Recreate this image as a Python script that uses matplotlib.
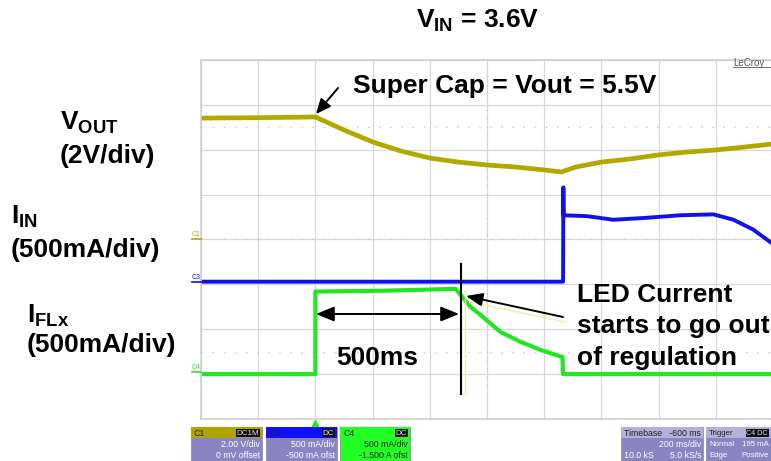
import matplotlib.pyplot as plt
import numpy as np
from matplotlib.patches import Rectangle

plt.rcParams['font.family'] = 'Liberation Sans'
plt.rcParams['mathtext.fontset'] = 'custom'
plt.rcParams['mathtext.rm'] = 'Liberation Sans:bold'
plt.rcParams['mathtext.it'] = 'Liberation Sans:bold'
plt.rcParams['mathtext.bf'] = 'Liberation Sans:bold'

# scope settings (200 ms/div, trigger at t = 0)
t_min, t_max = -400, 1600
vout_scale, vout_offset = 2.0, 0.0      # V/div, V
iin_scale, iin_offset = 0.5, -0.5       # A/div, A
iflx_scale, iflx_offset = 0.5, -1.5     # A/div, A

# C1 : V_OUT (V)
t_vout = [-400, -200, 0, 100, 200, 300, 400, 500, 600, 700, 800, 860, 910,
          1000, 1100, 1200, 1300, 1400, 1500, 1600]
vout = [5.41, 5.43, 5.46, 4.88, 4.35, 3.94, 3.63, 3.45, 3.32, 3.23, 3.10, 3.01,
        3.23, 3.45, 3.59, 3.77, 3.90, 3.99, 4.12, 4.26]

# C3 : I_IN (A)
t_iin = [-400, 866, 867, 868, 950, 1042, 1150, 1276, 1392, 1462, 1531, 1600]
iin = [0.03, 0.03, 1.08, 0.77, 0.76, 0.72, 0.74, 0.77, 0.78, 0.72, 0.61, 0.45]

# C4 : I_FLx (A)
t_iflx = [-400, 0, 0, 250, 490, 514, 542, 577, 647, 717, 787, 864, 866, 1600]
iflx = [0.0, 0.0, 0.92, 0.93, 0.95, 0.86, 0.75, 0.66, 0.47, 0.36, 0.27, 0.19, 0.0, 0.0]


def to_div(vals, scale, offset):
    return (np.array(vals) + offset) / scale + 4


fig = plt.figure(figsize=(7.71, 4.61), dpi=100)
W, H = 771, 461

# scope screen: 10 x 8 div, left edge at x=201 px, top 60, bottom 419
ax = fig.add_axes([201 / W, (H - 419) / H, 572 / W, 359 / H])
ax.set_xlim(t_min, t_max)
ax.set_ylim(0, 8)
ax.set_xticks(np.arange(t_min, t_max + 1, 200))
ax.set_yticks(np.arange(0, 9, 1))
ax.tick_params(length=0, labelbottom=False, labelleft=False)
ax.grid(True, color='#d8d8d8', lw=0.9)
for s in ax.spines.values():
    s.set_color('#cfcfcf')
    s.set_linewidth(1.2)
for yy in (1.5, 4, 6.5):
    ax.axhline(yy, color='#c8c8c8', lw=1.0, ls=(0, (1, 7)))
ax.axvline(600, color='#c8c8c8', lw=1.0, ls=(0, (1, 5)))

ax.plot(t_vout, to_div(vout, vout_scale, vout_offset), color='#b3a800', lw=3.4)
ax.plot(t_iin, to_div(iin, iin_scale, iin_offset), color='#1010f0', lw=2.8)
ax.plot(t_iflx, to_div(iflx, iflx_scale, iflx_offset), color='#22e622', lw=3.0)

# overlay in pixel coordinates for labels and scope decorations
ov = fig.add_axes([0, 0, 1, 1], facecolor='none')
ov.set_xlim(0, W)
ov.set_ylim(H, 0)
ov.axis('off')

big = 19
ov.text(416, 28, r'$\mathrm{V_{IN}}$ = 3.6V', fontsize=big, fontweight='bold')
ov.text(60, 130, r'$\mathrm{V_{OUT}}$', fontsize=big)
ov.text(60, 163, '(2V/div)', fontsize=big, fontweight='bold')
ov.text(11, 224, r'$\mathrm{I_{IN}}$', fontsize=big)
ov.text(11, 257, '(500mA/div)', fontsize=big, fontweight='bold')
ov.text(27, 323, r'$\mathrm{I_{FLx}}$', fontsize=big)
ov.text(27, 352, '(500mA/div)', fontsize=big, fontweight='bold')
ov.text(353, 93, 'Super Cap = Vout = 5.5V', fontsize=big, fontweight='bold')
ov.text(577, 302, 'LED Current', fontsize=big, fontweight='bold')
ov.text(577, 333, 'starts to go out', fontsize=big, fontweight='bold')
ov.text(577, 365, 'of regulation', fontsize=big, fontweight='bold')
ov.text(336, 365, '500ms', fontsize=big, fontweight='bold')

# arrows and markers
ov.annotate('', xy=(316, 114), xytext=(338, 88),
            arrowprops=dict(arrowstyle='-|>,head_length=0.9,head_width=0.4',
                            color='k', lw=1.4, shrinkA=0, shrinkB=0))
ov.annotate('', xy=(316, 314), xytext=(459, 314),
            arrowprops=dict(arrowstyle='<|-|>,head_length=1.1,head_width=0.45',
                            color='k', lw=1.4, shrinkA=0, shrinkB=0))
ov.plot([465, 465], [290, 395], color='#f3ebb0', lw=1.0)
ov.plot([461, 461], [264, 394], color='k', lw=1.5)
ov.plot([565, 470], [322, 302], color='#f3ebb0', lw=1.0)
ov.annotate('', xy=(466, 296), xytext=(563, 317),
            arrowprops=dict(arrowstyle='-|>,head_length=1.0,head_width=0.4',
                            color='k', lw=1.4, shrinkA=0, shrinkB=0))

# channel ground markers
for name, yy, col in (('C1', 239, '#b3a800'), ('C3', 282, '#1010f0'), ('C4', 372, '#22e622')):
    ov.text(192, yy - 1.5, name, fontsize=5, color=col, va='bottom', ha='left', rotation=0)
    ov.plot([192, 201], [yy, yy], color=col, lw=1.2)
ov.plot([315], [423], marker='^', color='#22e622', ms=4)
ov.text(733, 66, 'LeCroy', fontsize=7, color='#555555')
ov.plot([733, 771], [67, 67], color='#555555', lw=0.6)

# info boxes under the screen
body = '#8a85c2'
fs = 6.3


def box(x0, x1, head_col, head_left, tag, line1, line2, txt_col='white', body_col=body,
        head_txt='#222222', size=fs):
    ov.add_patch(Rectangle((x0, 427), x1 - x0, 40, facecolor=body_col, edgecolor='#9a9aa8', lw=0.8))
    ov.add_patch(Rectangle((x0, 427), x1 - x0, 11, facecolor=head_col, edgecolor='none'))
    ov.text(x0 + 3, 433, head_left, fontsize=size, color=head_txt, va='center')
    if tag:
        ov.text(x1 - 3, 433, tag, fontsize=size - 0.5, color='#dddddd', va='center', ha='right',
                bbox=dict(boxstyle='square,pad=0.1', fc='#111111', ec='none'))
    for yy, ln in ((444, line1), (455, line2)):
        if isinstance(ln, tuple):
            ov.text(x0 + 3, yy, ln[0], fontsize=size, color=txt_col, va='center')
            ov.text(x1 - 2, yy, ln[1], fontsize=size, color=txt_col, va='center', ha='right')
        else:
            ov.text(x1 - 2, yy, ln, fontsize=size, color=txt_col, va='center', ha='right')


box(191, 262, '#b0a400', 'C1', 'DC1M', '2.00 V/div', '0 mV offset')
box(266, 337, '#1010ff', 'C3', 'DC', '500 mA/div', '-500 mA ofst')
box(340, 410, '#22ff22', 'C4', 'DC', '500 mA/div', '-1.500 A ofst', txt_col='#222222', body_col='#22ff22')
box(621, 703, '#b4b0dc', 'Timebase   -600 ms', '', '200 ms/div', ('10.0 kS', '5.0 kS/s'))
box(706, 771, '#b4b0dc', 'Trigger', 'C4 DC', ('Normal', '195 mA'), ('Edge', 'Positive'), size=5.6)

plt.savefig('out.png', dpi=100)
